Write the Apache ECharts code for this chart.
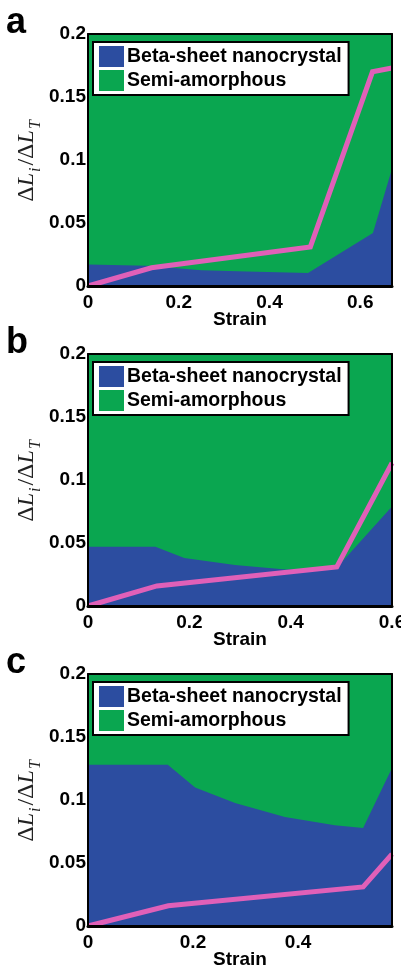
<!DOCTYPE html>
<html>
<head>
<meta charset="utf-8">
<script src="https://cdn.jsdelivr.net/npm/echarts@6/dist/echarts.min.js"></script>
<style>
  html, body { margin: 0; padding: 0; background: #fff; }
  #chart { width: 401px; height: 967px; }
</style>
</head>
<body>
<div id="chart"></div>
<script>
// 数据：每个面板的应变坐标与数值
// a
const strainBetaA = [0, 0.13, 0.25, 0.35, 0.485, 0.628, 0.67]
const betaA = [0.017, 0.016, 0.0125, 0.0115, 0.0103, 0.042, 0.093]
const strainSemiA = [0, 0.67]
const semiA = [0.2, 0.2]
const strainLineA = [0, 0.14, 0.49, 0.627, 0.67]
const lineA = [0, 0.0145, 0.031, 0.170, 0.173]
// b
const strainBetaB = [0, 0.133, 0.19, 0.29, 0.39, 0.49, 0.6]
const betaB = [0.047, 0.047, 0.038, 0.0325, 0.029, 0.030, 0.079]
const strainSemiB = [0, 0.6]
const semiB = [0.2, 0.2]
const strainLineB = [0, 0.136, 0.491, 0.6]
const lineB = [0, 0.0159, 0.031, 0.1135]
// c
const strainBetaC = [0, 0.152, 0.204, 0.28, 0.375, 0.47, 0.524, 0.579]
const betaC = [0.128, 0.128, 0.110, 0.0976, 0.0865, 0.080, 0.0778, 0.1254]
const strainSemiC = [0, 0.579]
const semiC = [0.2, 0.2]
const strainLineC = [0, 0.153, 0.524, 0.579]
const lineC = [0, 0.016, 0.031, 0.057]

const yTicks = [0, 0.05, 0.1, 0.15, 0.2]
const xTickStep = 0.2
const letters = ['a', 'b', 'c']
const xMaxes = [0.67, 0.6, 0.579]

const BLUE = '#2C4DA0'
const GREEN = '#0AA650'
const PINK = '#E060B8'
const SANS = '"Liberation Sans", Arial, sans-serif'
const SERIF = '"Liberation Serif", "Times New Roman", serif'

const panels = [
  { sb: strainBetaA, b: betaA, ss: strainSemiA, s: semiA, sl: strainLineA, l: lineA },
  { sb: strainBetaB, b: betaB, ss: strainSemiB, s: semiB, sl: strainLineB, l: lineB },
  { sb: strainBetaC, b: betaC, ss: strainSemiC, s: semiC, sl: strainLineC, l: lineC }
]
const gridTops = [34, 354, 674]
const GRID_H = 252

const zip = (xs, ys) => xs.map((x, i) => [x, ys[i]])

const labelFont = { fontFamily: SANS, fontWeight: 'bold', fontSize: 19, color: '#000' }

const grid = [], xAxis = [], yAxis = [], series = [], legend = [], title = []

panels.forEach((p, i) => {
  grid.push({ left: 88, right: 9, top: gridTops[i], height: GRID_H, containLabel: false, outerBoundsMode: 'none' })
  const xMax = xMaxes[i]
  // 下方主 x 轴
  xAxis.push({
    type: 'value', gridIndex: i, min: 0, max: xMax, interval: xTickStep, position: 'bottom', z: 5,
    axisLine: { show: true, onZero: false, lineStyle: { color: '#000', width: 3 } },
    axisTick: { show: false }, splitLine: { show: false },
    axisLabel: {
      ...labelFont, margin: 7, showMaxLabel: true, hideOverlap: false,
      formatter: v => Math.abs(v / xTickStep - Math.round(v / xTickStep)) < 1e-6 ? String(+v.toFixed(1)) : ''
    },
    name: 'Strain', nameLocation: 'middle', nameGap: 24, nameMoveOverlap: false, nameTextStyle: labelFont
  })
  // 上方边框
  xAxis.push({
    type: 'value', gridIndex: i, min: 0, max: xMax, position: 'top', z: 5,
    axisLine: { show: true, onZero: false, lineStyle: { color: '#000', width: 2 } },
    axisTick: { show: false }, splitLine: { show: false }, axisLabel: { show: false }
  })
  yAxis.push({
    type: 'value', gridIndex: i, min: yTicks[0], max: yTicks[yTicks.length - 1], interval: yTicks[1] - yTicks[0],
    position: 'left', z: 5,
    axisLine: { show: true, onZero: false, lineStyle: { color: '#000', width: 2 } },
    axisTick: { show: false }, splitLine: { show: false },
    axisLabel: { ...labelFont, margin: 2 },
    name: '{d|Δ}{l|L}{s|i}{d|/Δ}{l|L}{s|T}',
    nameLocation: 'middle', nameRotate: 90, nameGap: 44, nameMoveOverlap: false,
    nameTextStyle: {
      rich: {
        d: { fontFamily: SERIF, fontSize: 24, color: '#222', verticalAlign: 'top' },
        l: { fontFamily: SERIF, fontStyle: 'italic', fontSize: 24, color: '#222', verticalAlign: 'top' },
        s: { fontFamily: SERIF, fontStyle: 'italic', fontSize: 16, color: '#222', verticalAlign: 'top', padding: [13, 2, 0, 1] }
      }
    }
  })
  // 右侧边框
  yAxis.push({
    type: 'value', gridIndex: i, min: 0, max: 0.2, position: 'right', z: 5,
    axisLine: { show: true, onZero: false, lineStyle: { color: '#000', width: 2 } },
    axisTick: { show: false }, splitLine: { show: false }, axisLabel: { show: false }
  })

  const ax = { xAxisIndex: 2 * i, yAxisIndex: 2 * i }
  series.push({
    type: 'line', name: 'Semi-amorphous', ...ax, data: zip(p.ss, p.s), symbol: 'none', z: 1,
    lineStyle: { width: 0 }, itemStyle: { color: GREEN }, areaStyle: { color: GREEN, opacity: 1 }
  })
  series.push({
    type: 'line', name: 'Beta-sheet nanocrystal', ...ax, data: zip(p.sb, p.b), symbol: 'none', z: 2,
    lineStyle: { width: 0 }, itemStyle: { color: BLUE }, areaStyle: { color: BLUE, opacity: 1 }
  })
  series.push({
    type: 'line', name: 'Total', ...ax, data: zip(p.sl, p.l), symbol: 'none', z: 3,
    lineStyle: { color: PINK, width: 5, join: 'miter' }, itemStyle: { color: PINK }
  })

  legend.push({
    orient: 'vertical', left: 93, top: gridTops[i] + 8, z: 10,
    padding: [4, 7, 4, 6], itemGap: 3, itemWidth: 25, itemHeight: 21,
    backgroundColor: '#fff', borderColor: '#000', borderWidth: 2,
    selectedMode: false,
    textStyle: { ...labelFont, fontSize: 19.5, padding: [0, 0, 0, -2] },
    data: [
      { name: 'Beta-sheet nanocrystal', icon: 'rect', itemStyle: { color: BLUE } },
      { name: 'Semi-amorphous', icon: 'rect', itemStyle: { color: GREEN } }
    ]
  })

  title.push({
    text: letters[i], left: 6, top: gridTops[i] - 29, padding: 0,
    textStyle: { fontFamily: SANS, fontWeight: 'bold', fontSize: 36, color: '#000' }
  })
})

const chart = echarts.init(document.getElementById('chart'), null, { renderer: 'canvas' })
chart.setOption({ animation: false, backgroundColor: '#fff', title, grid, xAxis, yAxis, legend, series })
</script>
</body>
</html>
